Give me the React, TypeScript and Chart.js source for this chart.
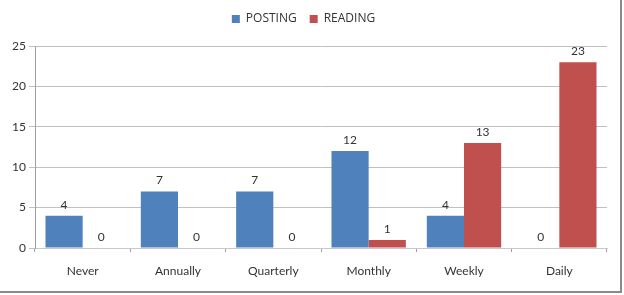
import React, { useEffect, useRef } from "react";
import { Chart, registerables } from "chart.js";

Chart.register(...registerables);

const categories = ["Never", "Annually", "Quarterly", "Monthly", "Weekly", "Daily"];
const postingValues = [4, 7, 7, 12, 4, 0];
const readingValues = [0, 0, 0, 1, 13, 23];
const seriesNames = ["POSTING", "READING"];
const seriesColors = ["#4f81bd", "#c0504d"];
const yTicks = [0, 5, 10, 15, 20, 25];

const FONT = "Lato, 'Open Sans', sans-serif";
const LEGEND_FONT = "'Open Sans', sans-serif";

const valueLabels = {
  id: "valueLabels",
  afterDatasetsDraw(chart: any) {
    const ctx = chart.ctx;
    ctx.save();
    ctx.font = `12px ${FONT}`;
    ctx.fillStyle = "#333333";
    ctx.textAlign = "center";
    ctx.textBaseline = "bottom";
    chart.data.datasets.forEach((ds: any, i: number) => {
      const meta = chart.getDatasetMeta(i);
      meta.data.forEach((bar: any, j: number) => {
        ctx.fillText(String(ds.data[j]), bar.x, bar.y - 5);
      });
    });
    ctx.restore();
  },
};

const legendGap = {
  id: "legendGap",
  beforeInit(chart: any) {
    const orig = chart.legend.fit;
    chart.legend.fit = function () {
      orig.call(this);
      this.height += 11;
    };
  },
};

export default function App() {
  const ref = useRef<HTMLCanvasElement | null>(null);
  useEffect(() => {
    if (!ref.current) return;
    const chart = new Chart(ref.current, {
      type: "bar",
      data: {
        labels: categories,
        datasets: [
          { label: seriesNames[0], data: postingValues, backgroundColor: seriesColors[0], categoryPercentage: 0.78, barPercentage: 1 },
          { label: seriesNames[1], data: readingValues, backgroundColor: seriesColors[1], categoryPercentage: 0.78, barPercentage: 1 },
        ],
      },
      options: {
        animation: false,
        responsive: false,
        layout: { padding: { left: 0, right: 13, top: 0, bottom: 5 } },
        plugins: {
          tooltip: { enabled: false },
          legend: {
            position: "top",
            labels: {
              boxWidth: 8,
              boxHeight: 8,
              font: { family: LEGEND_FONT, size: 12 },
              color: "#333333",
              padding: 13,
            },
          },
        },
        scales: {
          x: {
            grid: { display: true, offset: true, drawOnChartArea: false, tickLength: 4, color: "#a0a0a0" },
            border: { display: true, color: "#c8c8c8" },
            ticks: { font: { family: FONT, size: 12 }, color: "#333333", padding: 12 },
            afterFit: (s: any) => { s.height = 38; },
          },
          y: {
            min: 0,
            max: 25,
            afterBuildTicks: (s: any) => { s.ticks = yTicks.map((v) => ({ value: v })); },
            grid: { color: "#c0c0c0", tickLength: 6 },
            border: { display: true, color: "#a0a0a0" },
            ticks: { font: { family: FONT, size: 12 }, color: "#333333", padding: 3 },
            afterFit: (s: any) => { s.width = 35; },
          },
        },
      },
      plugins: [valueLabels, legendGap],
    });
    return () => chart.destroy();
  }, []);
  return (
    <div style={{ position: "fixed", left: 0, top: 0, width: 624, height: 295, background: "#fff" }}>
      <div style={{ width: 620, height: 291, borderRight: "2px solid #8a8a8a", borderBottom: "2px solid #8a8a8a" }}>
        <canvas ref={ref} width={620} height={291} />
      </div>
    </div>
  );
}
